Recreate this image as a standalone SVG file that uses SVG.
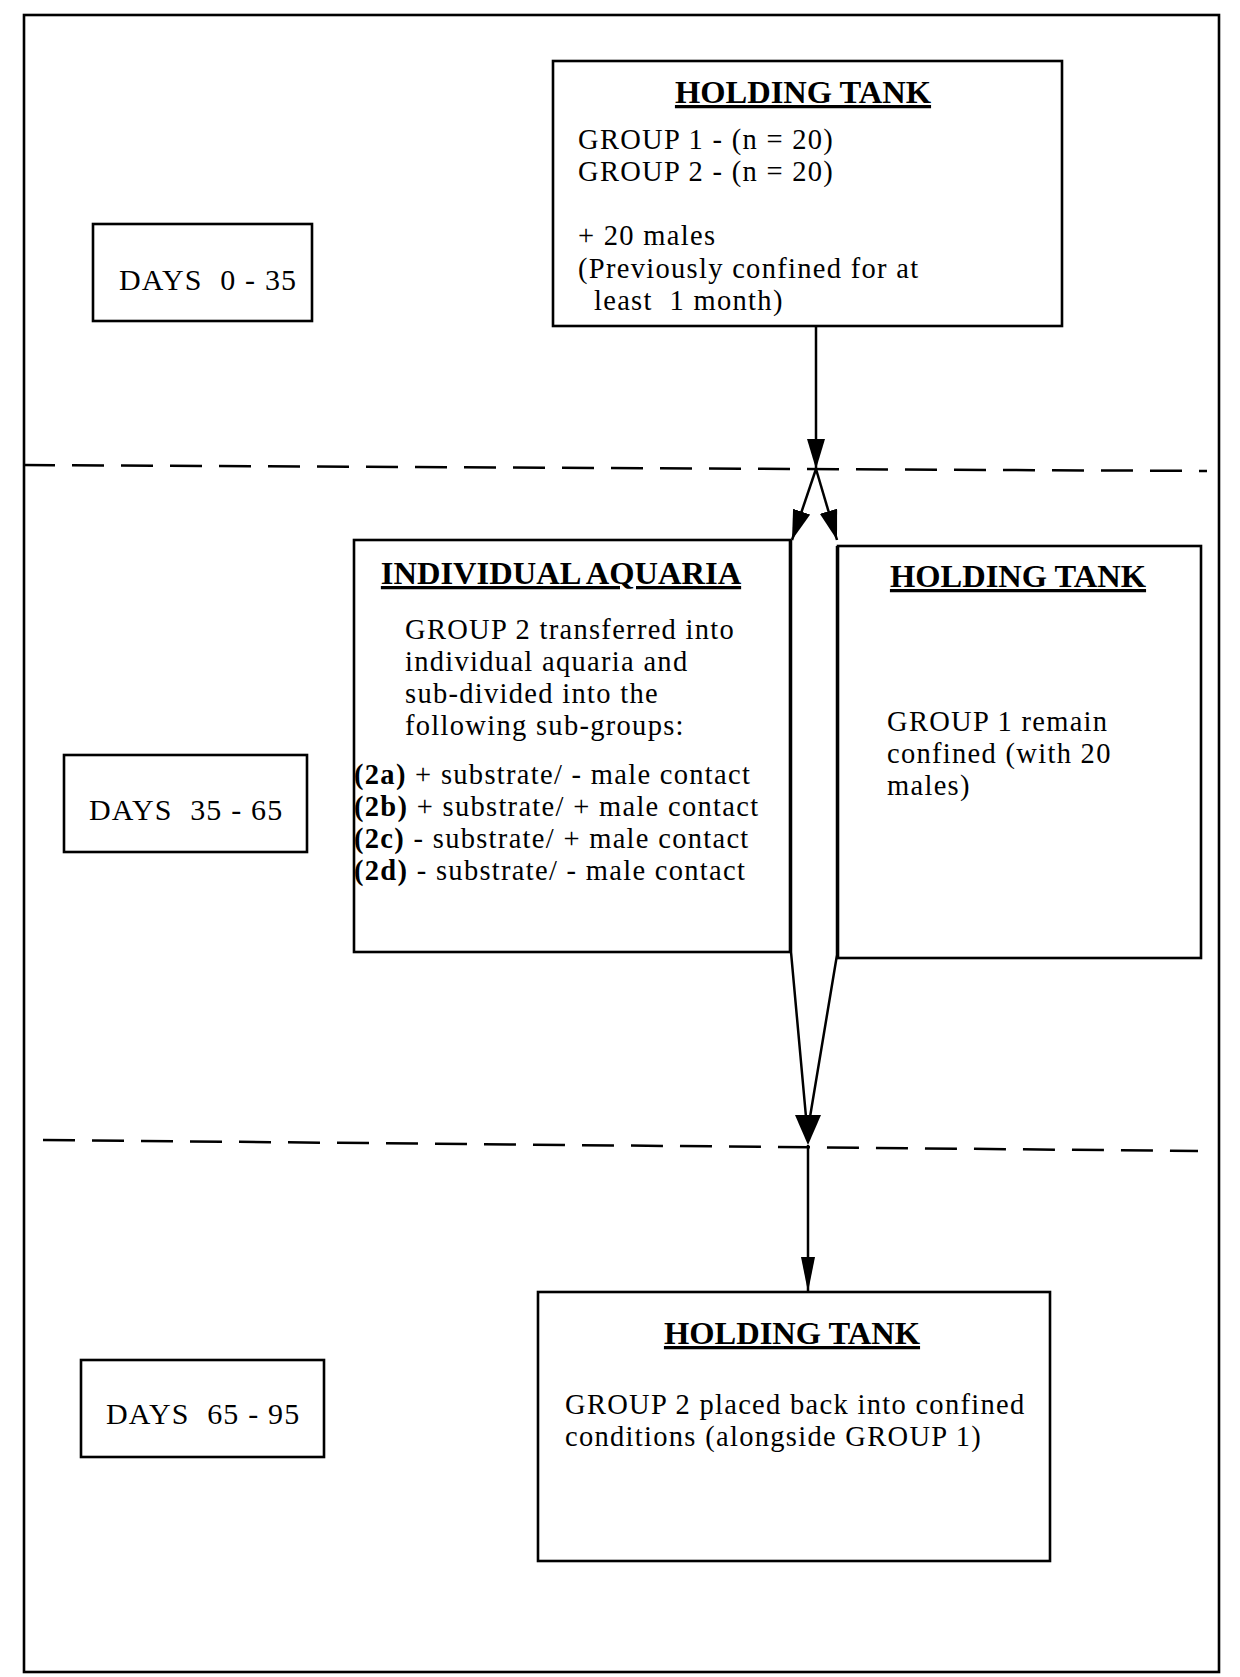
<svg xmlns="http://www.w3.org/2000/svg" width="1240" height="1677" viewBox="0 0 1240 1677">
<style>
.box{fill:none;stroke:#000;stroke-width:2.6}
.t{font-family:"Liberation Serif","Times New Roman",serif;font-size:28.5px;letter-spacing:1.3px;fill:#000}
.h{font-weight:bold;font-size:32.5px;letter-spacing:0;text-decoration:underline}
.b{font-weight:bold}
.d{font-size:30px;letter-spacing:1.2px}
.dash{stroke:#000;stroke-width:2.5;stroke-dasharray:32 17;fill:none}
.ln{stroke:#000;stroke-width:2.5;fill:none}
</style>
<defs>
<marker id="ah" viewBox="0 0 30 18" refX="30" refY="9" markerWidth="30" markerHeight="18" markerUnits="userSpaceOnUse" orient="auto"><path d="M0,0 L30,9 L0,18 z" fill="#000"/></marker>
<marker id="ah2" viewBox="0 0 35 14" refX="35" refY="7" markerWidth="35" markerHeight="14" markerUnits="userSpaceOnUse" orient="auto"><path d="M0,0 L35,7 L0,14 z" fill="#000"/></marker>
</defs>
<rect width="1240" height="1677" fill="#fff"/>
<rect id="frame" class="box" x="24" y="15" width="1195" height="1657"/>
<g id="dividers">
<line class="dash" x1="23" y1="465" x2="1207" y2="471"/>
<line class="dash" x1="43" y1="1140" x2="1198" y2="1151"/>
</g>
<g id="days1">
<rect class="box" x="93" y="224" width="219" height="97"/>
<text class="t d" x="119" y="290" xml:space="preserve">DAYS  0 - 35</text>
</g>
<g id="days2">
<rect class="box" x="64" y="755" width="243" height="97"/>
<text class="t d" x="89" y="820" xml:space="preserve">DAYS  35 - 65</text>
</g>
<g id="days3">
<rect class="box" x="81" y="1360" width="243" height="97"/>
<text class="t d" x="106" y="1424" xml:space="preserve">DAYS  65 - 95</text>
</g>
<g id="tank1">
<rect class="box" x="553" y="61" width="509" height="265"/>
<text class="t h" x="803" y="103" text-anchor="middle">HOLDING TANK</text>
<text class="t" x="578" y="149">GROUP 1 - (n = 20)</text>
<text class="t" x="578" y="181">GROUP 2 - (n = 20)</text>
<text class="t" x="578" y="245">+ 20 males</text>
<text class="t" x="578" y="278">(Previously confined for at</text>
<text class="t" x="594" y="310" xml:space="preserve">least  1 month)</text>
</g>
<g id="aquaria">
<rect class="box" x="354" y="540" width="436" height="412"/>
<text class="t h" x="561" y="584" text-anchor="middle">INDIVIDUAL AQUARIA</text>
<text class="t" x="405" y="639">GROUP 2 transferred into</text>
<text class="t" x="405" y="671">individual aquaria and</text>
<text class="t" x="405" y="703">sub-divided into the</text>
<text class="t" x="405" y="735">following sub-groups:</text>
<text class="t" x="354" y="784"><tspan class="b">(2a)</tspan> + substrate/ - male contact</text>
<text class="t" x="354" y="816"><tspan class="b">(2b)</tspan> + substrate/ + male contact</text>
<text class="t" x="354" y="848"><tspan class="b">(2c)</tspan> - substrate/ + male contact</text>
<text class="t" x="354" y="880"><tspan class="b">(2d)</tspan> - substrate/ - male contact</text>
</g>
<g id="tank2">
<rect class="box" x="838" y="546" width="363" height="412"/>
<text class="t h" x="1018" y="587" text-anchor="middle">HOLDING TANK</text>
<text class="t" x="887" y="731">GROUP 1 remain</text>
<text class="t" x="887" y="763">confined (with 20</text>
<text class="t" x="887" y="795">males)</text>
</g>
<g id="tank3">
<rect class="box" x="538" y="1292" width="512" height="269"/>
<text class="t h" x="792" y="1344" text-anchor="middle">HOLDING TANK</text>
<text class="t" x="565" y="1414">GROUP 2 placed back into confined</text>
<text class="t" x="565" y="1446">conditions (alongside GROUP 1)</text>
</g>
<g id="connectors">
<path class="ln" d="M816,326 V469" marker-end="url(#ah)"/>
<path class="ln" d="M816,469 L792,540" marker-end="url(#ah)"/>
<path class="ln" d="M816,469 L837,540" marker-end="url(#ah)"/>
<path class="ln" d="M791,540 V952 L806,1117"/>
<path class="ln" d="M837,546 V955 L810,1117"/>
<polygon points="795,1115 821,1115 808,1145" fill="#000"/>
<path class="ln" d="M808,1145 V1292" marker-end="url(#ah2)"/>
</g>
</svg>
